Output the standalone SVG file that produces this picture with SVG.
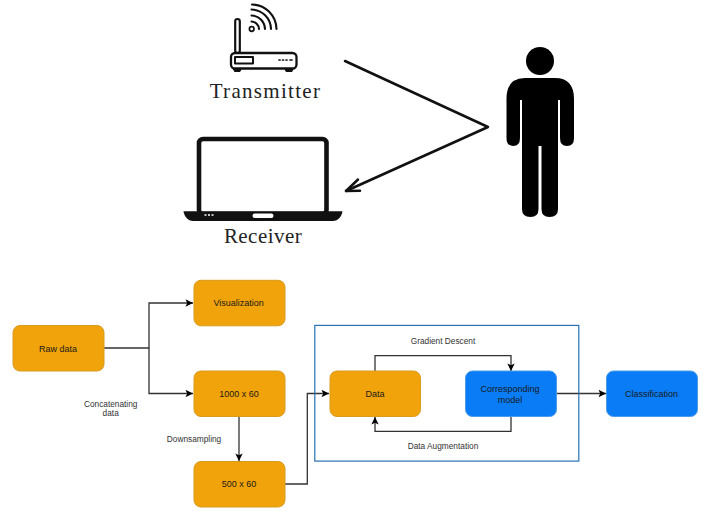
<svg xmlns="http://www.w3.org/2000/svg" width="720" height="527" viewBox="0 0 720 527">
<defs>
<marker id="arr" markerUnits="userSpaceOnUse" markerWidth="9" markerHeight="9" refX="8" refY="4.500" orient="auto"><path d="M0.500 0.800L8 4.500L0.500 8.200L2.200 4.500Z" fill="#000"/></marker>
</defs>
<style>
.box{stroke-width:1}
.o{fill:#f0a30a;stroke:#d99a20}
.b{fill:#0a7cf5;stroke:#4a9bea}
.t{font-family:"Liberation Sans",Arial,sans-serif;font-size:9px;fill:#1a1a1a;text-anchor:middle}
.l{font-family:"Liberation Sans",Arial,sans-serif;font-size:8.300px;fill:#333;text-anchor:middle}
.s{font-family:"Liberation Serif","DejaVu Serif",serif;font-size:21px;fill:#222;text-anchor:middle;letter-spacing:.45px}
.c{fill:none;stroke:#333;stroke-width:1.300}
.k{fill:none;stroke:#111;stroke-linecap:round;stroke-linejoin:round}
</style>
<rect width="720" height="527" fill="#fff"/>
<g id="transmitter">
<rect x="235.200" y="19" width="4.600" height="34" rx="2.300" class="k" stroke-width="2.200"/>
<rect x="231" y="53" width="65.500" height="15.500" rx="4" fill="#fff" class="k" stroke-width="2.300"/>
<rect x="235" y="57" width="18" height="6.500" class="k" stroke-width="2"/>
<path d="M233.500 69h7.500l-1 2.500h-5.500zM285 69h8l-1 2.500h-6z" fill="#111" stroke="#111"/>
<path d="M279 60h1M282.500 60h1M286 60h1M290 60h2" class="k" stroke-width="1.700"/>
<circle cx="251.700" cy="29" r="2.300" class="k" stroke-width="1.700"/>
<path d="M251.500 21.500A8 8 0 0 1 259 29M251.500 15.500A14 14 0 0 1 265 29M251.500 9.500A20 20 0 0 1 271 29M252 4.500A25 25 0 0 1 276.500 29" class="k" stroke-width="2.100"/>
<text class="s" x="265.500" y="97.500" style="letter-spacing:1.300px">Transmitter</text>
</g>
<g id="receiver">
<rect x="199" y="139" width="127.500" height="75" rx="4" fill="#fff" stroke="#111" stroke-width="4.600"/>
<path d="M183.500 211.200H342.500C342 216 338 221 333 221H193C188 221 184 216 183.500 211.200Z" fill="#111"/>
<rect x="252.500" y="213.500" width="21" height="4.500" rx="2.200" fill="#fff"/>
<path d="M204.500 215h2M208 215h2M211.500 215h2" stroke="#fff" stroke-width="1.500" fill="none"/>
<text class="s" x="263" y="243.300">Receiver</text>
</g>
<g id="person">
<circle cx="540" cy="61" r="14" fill="#000"/>
<path d="M525 78H555Q574 78 574 99V138Q574 146 567 146Q560 146 560 138V100H558V209Q558 217 549.500 217Q541.500 217 541.500 209V146H538.500V209Q538.500 217 530.500 217Q522 217 522 209V100H520V138Q520 146 513 146Q506.500 146 506.500 138V99Q506.500 78 525 78Z" fill="#000"/>
</g>
<g id="reflection">
<path d="M345 61L488 127L346 191" class="k" stroke-width="2.500" stroke-linecap="butt"/>
<path d="M358 179.500L346 191L360 190.800" class="k" stroke-width="2.500"/>
</g>
<g id="connectors">
<path class="c" d="M104 348H149V303H193" marker-end="url(#arr)"/>
<path class="c" d="M149 348V393.500H193" marker-end="url(#arr)"/>
<path class="c" d="M239 416V461" marker-end="url(#arr)"/>
<path class="c" d="M285 484H307.300V393.500H329" marker-end="url(#arr)"/>
<path class="c" d="M375 371V355.700H511V371" marker-end="url(#arr)"/>
<path class="c" d="M511 416V431.300H375V417" marker-end="url(#arr)"/>
<path class="c" d="M556 393.500H606" marker-end="url(#arr)"/>
</g>
<rect id="frame" x="314.800" y="325.400" width="264" height="135.700" fill="none" stroke="#2a6fb5" stroke-width="1.200"/>
<g id="raw"><rect class="box o" x="13" y="325.500" width="91" height="45.500" rx="7"/><text class="t" x="58" y="352">Raw data</text></g>
<g id="vis"><rect class="box o" x="194" y="280.300" width="91" height="45.500" rx="7"/><text class="t" x="238.700" y="306">Visualization</text></g>
<g id="n1000"><rect class="box o" x="194" y="371" width="91" height="45.500" rx="7"/><text class="t" x="239" y="396.500">1000 x 60</text></g>
<g id="n500"><rect class="box o" x="194" y="461.500" width="91" height="45.500" rx="7"/><text class="t" x="239" y="487">500 x 60</text></g>
<g id="data"><rect class="box o" x="330" y="371" width="90.500" height="45.500" rx="7"/><text class="t" x="375" y="397">Data</text></g>
<g id="model"><rect class="box b" x="465.500" y="371" width="91" height="45.500" rx="7"/><text class="t" x="510" y="392">Corresponding</text><text class="t" x="510" y="402.500">model</text></g>
<g id="cls"><rect class="box b" x="606.500" y="371" width="91" height="45.500" rx="7"/><text class="t" x="651.500" y="397">Classification</text></g>
<g id="labels">
<text class="l" x="110.700" y="406.500">Concatenating</text><text class="l" x="110.700" y="416">data</text>
<text class="l" x="194" y="441.700">Downsampling</text>
<text class="l" x="443" y="343.700">Gradient Descent</text>
<text class="l" x="443" y="449">Data Augmentation</text>
</g>
</svg>
